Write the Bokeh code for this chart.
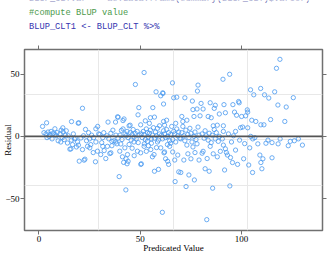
from bokeh.plotting import figure
from bokeh.models import Span, FixedTicker, LinearAxis
from bokeh.layouts import column
from bokeh.embed import file_html
from bokeh.resources import INLINE
from bokeh.core.properties import value

predicted = [
    1.8, 3.8, 2.5, 3.5, 4.5, 5.5, 6.0, 7.0, 7.9, 8.5, 9.0, 4.0, 6.5, 9.5, 8.0, 5.0,
    10.5, 11.0, 11.8, 12.5, 10.8, 14.1, 13.0, 12.0, 14.5, 15.3, 15.8, 16.1, 16.6, 17.0, 18.0, 19.1, 19.7, 19.4, 19.9, 19.5, 13.5, 11.5, 16.0, 18.5, 17.5,
    20.7, 21.5, 21.5, 22.3, 22.7, 23.0, 24.0, 25.1, 25.6, 26.8, 27.9, 28.1, 28.1, 28.9, 29.5, 26.0, 24.5, 22.0, 27.0, 23.5, 29.0, 25.0,
    30.5, 31.0, 31.5, 32.2, 33.0, 33.8, 34.1, 35.0, 35.5, 36.0, 37.0, 37.8, 37.9, 38.8, 39.1, 39.6, 39.9, 30.0, 32.0, 33.5, 35.5, 36.5, 38.0, 39.0, 34.5, 31.5, 36.0, 38.5,
    40.4, 40.7, 41.2, 41.5, 41.8, 42.0, 42.4, 42.9, 43.0, 43.5, 43.7, 44.0, 44.5, 45.0, 46.9, 47.6, 48.6, 48.9, 49.3, 40.0, 41.0, 42.5, 43.0, 44.0, 45.0, 45.5, 46.0, 46.5, 47.0, 47.5, 48.0, 48.5, 49.0, 49.5, 44.5, 46.0, 47.0, 41.5, 43.5,
    50.2, 50.2, 50.3, 50.5, 51.9, 51.9, 53.5, 55.2, 55.0, 56.2, 56.0, 56.8, 57.0, 57.0, 57.8, 58.5, 59.0, 50.5, 51.0, 51.5, 52.0, 52.5, 53.0, 53.5, 54.0, 54.5, 55.0, 55.5, 56.0, 56.5, 57.0, 57.5, 58.0, 58.5, 59.0, 59.5, 52.0, 54.0, 55.5, 53.0, 58.0, 54.5, 52.5, 59.5,
    60.1, 60.1, 60.9, 61.1, 61.2, 61.5, 61.5, 61.7, 62.0, 62.5, 63.0, 63.4, 63.5, 64.0, 65.9, 66.5, 67.2, 67.0, 68.0, 69.0, 70.0, 60.5, 61.0, 61.5, 62.0, 62.5, 63.0, 63.5, 64.0, 64.5, 65.0, 65.5, 66.0, 66.5, 67.0, 67.5, 68.0, 68.5, 69.0, 69.5, 64.5, 66.0, 68.5, 65.0, 62.0, 67.5,
    70.5, 71.0, 71.5, 72.0, 72.6, 73.0, 73.5, 74.0, 75.0, 75.7, 76.0, 76.5, 76.7, 77.0, 78.2, 78.5, 78.0, 79.0, 79.5, 70.0, 70.5, 71.5, 72.0, 72.5, 73.5, 74.0, 74.5, 75.0, 75.5, 76.5, 77.0, 77.5, 78.5, 79.0, 73.0, 76.0, 78.0, 71.0,
    80.0, 80.5, 81.0, 81.0, 82.0, 82.8, 83.0, 83.5, 84.0, 84.5, 85.0, 85.7, 86.0, 86.5, 87.0, 88.0, 89.0, 89.5, 80.5, 81.5, 82.0, 82.5, 83.5, 84.0, 85.0, 85.5, 86.5, 87.0, 87.5, 88.5, 89.0, 84.5, 86.0, 88.0,
    90.8, 91.0, 91.3, 91.0, 91.0, 91.6, 92.0, 92.5, 93.0, 94.1, 94.2, 94.5, 95.5, 95.7, 96.0, 97.0, 97.0, 97.5, 98.0, 98.5, 98.8, 99.5, 100.0, 100.5, 101.0, 90.5, 93.5, 95.0, 99.0, 92.0, 96.5,
    101.5, 102.0, 102.8, 103.0, 103.5, 104.0, 104.4, 104.5, 105.0, 105.4, 105.5, 106.0, 106.5, 109.0, 109.4, 109.5, 109.5, 110.0, 110.5, 107.0, 108.0, 103.0,
    111.0, 111.3, 113.0, 113.4, 114.3, 115.0, 115.0, 116.3, 117.2, 117.9, 118.0, 118.9, 119.0, 112.0,
    121.3, 122.0, 123.0, 125.5, 126.0, 128.0, 130.0, 124.0,
]

residual = [
    8.0, 10.9, 3.0, 2.0, 3.5, 1.5, 4.0, 2.5, 6.1, 0.5, 3.0, -1.0, -2.0, -3.5, 1.5, 0.0,
    2.0, 5.0, 6.9, -2.6, -4.5, -5.3, 1.0, 3.5, 0.5, -10.3, -10.0, 11.9, -6.6, 2.0, -1.5, -4.5, 10.9, 10.6, -19.9, -7.0, 4.5, -1.0, -3.0, -8.5, -2.0,
    -1.3, 22.6, -10.6, -19.1, -18.3, 5.6, -8.0, -9.2, -6.6, -13.0, -20.4, 6.1, -4.5, -11.9, 2.0, 1.0, 3.0, 0.5, -1.0, -3.5, 8.0, -2.0,
    -14.6, -5.0, -8.0, -11.4, -17.8, -8.0, 11.5, -13.8, -13.2, -4.0, -3.5, 11.5, -4.5, 15.7, 15.4, -32.3, -11.9, 1.5, 3.0, 0.5, 2.5, 5.0, 1.0, -1.5, -2.0, -1.0, -7.5, -6.0,
    -6.1, 4.8, -16.4, 12.7, -20.9, 14.0, -9.2, -43.0, -18.0, -22.0, -14.6, -20.0, 8.5, 9.0, -4.5, 41.7, -11.9, 17.3, 23.1, 1.0, -2.5, 2.0, 0.5, -1.0, 3.0, -3.0, 1.5, 5.5, -0.5, 2.5, -2.0, 4.0, -5.0, 1.0, -6.5, -9.5, -15.5, 6.0, 4.0,
    9.3, -13.2, -22.5, -22.0, 51.3, -8.0, -4.0, -10.6, 15.0, 23.1, -16.4, -14.6, 15.5, -28.0, 35.8, -4.5, -26.5, 2.0, -1.0, 4.0, 1.5, -2.5, 6.0, 3.0, -0.5, 2.5, 5.0, -2.0, 1.0, 7.0, -1.5, 3.5, 0.5, 6.5, -3.0, 2.0, -6.0, -7.5, -5.5, -12.0, -9.0, 10.5, 12.5, 8.5,
    32.6, -9.2, -61.0, 35.0, 34.5, 26.0, 12.0, -13.2, -12.5, -18.0, 13.0, -6.6, -20.0, -22.5, 43.0, 31.0, -36.3, -19.0, 31.5, -28.5, -29.0, 1.0, -2.0, 4.5, 2.0, -1.0, 5.5, 0.0, 3.0, -3.5, 1.5, 8.0, -2.5, 4.0, 2.0, -4.5, 6.0, 0.5, 3.5, -1.5, -8.0, -12.5, -15.0, -5.5, 9.0, 10.5,
    16.0, 12.0, -19.0, 31.0, -40.3, 13.0, -14.0, -31.0, -18.0, 28.4, 21.5, 16.0, -35.0, -13.0, 36.4, 41.2, 22.0, -19.0, 16.5, -2.0, 3.0, 0.5, -3.5, 5.0, 1.5, -1.0, 6.5, 2.5, -4.5, 0.0, 3.5, -2.5, 7.5, 1.0, -7.0, -8.5, -6.0, 8.0,
    26.5, -13.5, 22.0, -12.0, -26.0, -66.9, -17.8, 16.0, -28.0, 27.0, 15.0, -41.6, -14.0, 22.5, 25.0, -16.4, 18.0, -12.0, 2.0, -1.5, 4.5, 0.5, -3.0, 2.5, -5.0, 1.0, 5.5, -2.0, 3.0, -4.0, 0.0, -8.0, 8.5, 9.0,
    45.9, -7.0, 25.5, 8.5, 4.0, -27.0, -10.0, -13.0, -15.0, 49.9, -39.8, -17.0, -21.0, 25.5, 0.5, -11.0, 4.0, 17.0, -22.5, 28.0, 27.0, 7.0, 16.0, 7.5, -18.0, -2.0, 2.0, -4.5, -3.0, 19.0, 19.5,
    -5.8, 16.5, 21.3, 6.9, -23.0, -9.2, 37.4, 0.0, 13.0, -29.0, -2.0, 33.4, -1.0, -15.0, 38.5, 9.3, -21.0, -26.0, -18.0, 12.0, -6.0, 19.5,
    9.3, 33.4, -3.0, 30.8, 13.5, -17.2, -5.0, 35.8, 54.7, 25.2, -6.0, 61.9, -2.0, -5.5,
    12.0, 23.6, -7.5, 31.1, -3.5, -2.0, -7.0, -4.0,
]

x_ticks = [0, 50, 100]
y_ticks = [-50, 0, 50]
x_grid = [29.6, 66.2, 102.8]
y_grid = [-39.2, -2.7, 33.8]
x_title = "Predicated Value"
y_title = "Residual"
code_lines = [
    "BLUP_CLTvar <- as.data.frame(summary(BLUP_CLT)$varcor)",
    "#compute BLUP value",
    "BLUP_CLT1 <- BLUP_CLT %>%",
]
code_colors = ["#6060a8", "#4c9a4c", "#3535b0"]

FRAME = "#707070"
SERIF = "Liberation Serif"
W = 327
HEAD = 40

# ---- code block strip above the chart (canvas pixel coordinates) ----
head = figure(width=W, height=HEAD, output_backend="svg", toolbar_location=None,
              x_range=(0, W), y_range=(HEAD, 0), min_border=0,
              x_axis_type=None, y_axis_type=None)
head.outline_line_color = None
head.grid.visible = False
head.background_fill_color = "white"
head.border_fill_color = "white"
head.text(x=[5, 5, 5], y=[-1.5, 12, 26], text=code_lines, text_color=code_colors,
          text_font=value("Liberation Mono"), text_font_size="8.7px",
          text_baseline="middle", text_align="left")

# ---- main residual plot ----
p = figure(width=W, height=255 - HEAD, output_backend="svg", toolbar_location=None,
           x_range=(-7.1, 139.9), y_range=(-75.6, 69.8),
           min_border_left=24, min_border_right=5, min_border_top=9, min_border_bottom=23,
           x_axis_label=x_title, y_axis_label=y_title)
p.background_fill_color = "white"
p.border_fill_color = "white"
p.outline_line_color = FRAME
p.outline_line_width = 1.5

p.xgrid.ticker = FixedTicker(ticks=x_grid)
p.ygrid.ticker = FixedTicker(ticks=y_grid)
p.grid.grid_line_color = "#e8e8e8"
p.grid.grid_line_width = 1

for ax in p.xaxis + p.yaxis:
    ax.axis_line_color = None
    ax.major_tick_line_color = FRAME
    ax.major_tick_line_width = 1
    ax.major_tick_out = 4
    ax.major_tick_in = 0
    ax.minor_tick_line_color = None
    ax.major_label_text_font = SERIF
    ax.major_label_text_font_size = "9px"
    ax.major_label_text_color = "black"
    ax.axis_label_text_font = SERIF
    ax.axis_label_text_font_size = "9px"
    ax.axis_label_text_font_style = "normal"
    ax.axis_label_text_color = "black"

p.xaxis.ticker = FixedTicker(ticks=x_ticks)
p.yaxis.ticker = FixedTicker(ticks=y_ticks)
p.xaxis.major_label_standoff = 1
p.xaxis.axis_label_standoff = -2
p.yaxis.major_label_standoff = 1
p.yaxis.axis_label_standoff = -11

top = LinearAxis(ticker=FixedTicker(ticks=x_ticks),
                 major_label_overrides={t: "" for t in x_ticks})
right = LinearAxis(ticker=FixedTicker(ticks=y_ticks),
                   major_label_overrides={t: "" for t in y_ticks})
for ax in (top, right):
    ax.axis_line_color = None
    ax.major_tick_line_color = FRAME
    ax.major_tick_out = 4
    ax.major_tick_in = 0
    ax.minor_tick_line_color = None
    ax.major_label_standoff = 0
    ax.major_label_text_font_size = "1px"
p.add_layout(top, "above")
p.add_layout(right, "right")

p.add_layout(Span(location=0, dimension="width", line_color="#555555", line_width=1.6))

p.scatter(predicted, residual, marker="circle", size=4.3, fill_color=None,
          line_color="#4a9af0", line_width=1, line_alpha=0.8)

layout = column(head, p, spacing=0)
open("out.html", "w").write(file_html(layout, INLINE))
